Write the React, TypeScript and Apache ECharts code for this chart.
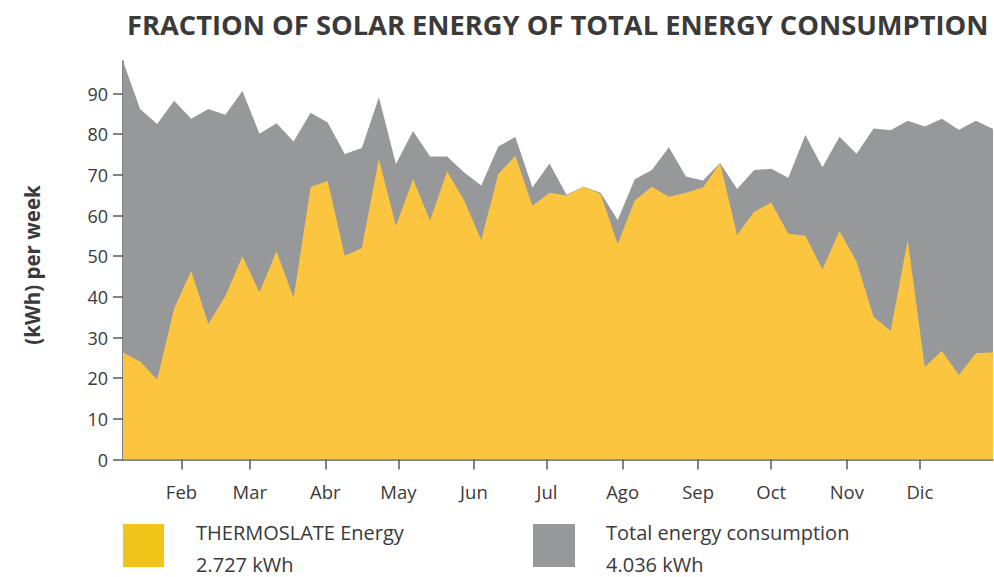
import React, { useEffect, useRef } from "react";
import * as echarts from "echarts";

const title = "FRACTION OF SOLAR ENERGY OF TOTAL ENERGY CONSUMPTION";
const yAxisTitle = "(kWh) per week";

// weekly values (52 weeks)
const totalConsumption = [
  98, 86.2, 82.5, 88.2, 83.8, 86.2, 84.8, 90.6, 80.1, 82.7,
  78.2, 85.3, 82.9, 75.1, 76.6, 89.1, 72.7, 80.8, 74.5, 74.5,
  70.6, 67.4, 77.0, 79.3, 66.9, 72.8, 65.1, 67.1, 65.6, 58.9,
  68.9, 71.2, 76.8, 69.6, 68.6, 72.9, 66.5, 71.2, 71.5, 69.3,
  79.8, 71.9, 79.4, 75.2, 81.4, 81.0, 83.3, 81.9, 83.8, 81.1,
  83.3, 81.3,
];
const thermoslateEnergy = [
  26.3, 24.1, 19.7, 37.2, 46.4, 33.3, 40.2, 50.0, 41.1, 51.2,
  39.7, 67.0, 68.5, 50.1, 52.0, 73.9, 57.5, 68.9, 58.8, 70.8,
  63.7, 54.0, 70.2, 74.7, 62.4, 65.6, 64.9, 67.1, 65.3, 53.0,
  63.7, 67.1, 64.6, 65.6, 66.9, 72.9, 55.2, 60.9, 63.2, 55.5,
  55.0, 46.8, 56.2, 48.7, 35.1, 31.6, 54.0, 22.8, 26.7, 20.8,
  26.1, 26.4,
];

const monthLabels = ["Feb", "Mar", "Abr", "May", "Jun", "Jul", "Ago", "Sep", "Oct", "Nov", "Dic"];
const monthStartDay = [31, 59, 90, 120, 151, 181, 212, 243, 273, 304, 334];
const firstWeekDay = 7;
const yTicks = [0, 10, 20, 30, 40, 50, 60, 70, 80, 90];

const legendNames = ["THERMOSLATE Energy", "Total energy consumption"];
const legendTotals = ["2.727 kWh", "4.036 kWh"];

const YELLOW_AREA = "#FCC540";
const YELLOW_LEGEND = "#F0C419";
const GRAY = "#97989A";
const AXIS = "#555b61";
const TEXT = "#3a3a3a";
const FONT = "'Open Sans', sans-serif";

export default function App() {
  const ref = useRef<HTMLDivElement>(null);
  useEffect(() => {
    if (!ref.current) return;
    const chart = echarts.init(ref.current, undefined, { renderer: "svg" });
    const monthPos = monthStartDay.map((d) => (d - firstWeekDay) / 7);
    const labelFor = (v: number) => {
      const k = monthPos.findIndex((p) => Math.abs(p - v) < 1e-6);
      return k >= 0 ? monthLabels[k] : "";
    };
    chart.setOption({
      animation: false,
      grid: { left: 123, right: 1, top: 61, bottom: 117.5, containLabel: false },
      xAxis: {
        type: "value",
        min: 0,
        max: totalConsumption.length - 1,
        axisLine: { show: true, lineStyle: { color: AXIS, width: 1.5 } },
        axisTick: { show: true, length: 10, customValues: monthPos, lineStyle: { color: AXIS, width: 1.5 } },
        axisLabel: {
          customValues: monthPos,
          formatter: (v: number) => labelFor(v),
          color: TEXT,
          fontFamily: FONT,
          fontSize: 18.5,
          margin: 22,
        },
        splitLine: { show: false },
      },
      yAxis: {
        type: "value",
        min: 0,
        max: 98,
        axisLine: { show: true, lineStyle: { color: AXIS, width: 1.5 } },
        axisTick: { show: true, length: 10, customValues: yTicks, lineStyle: { color: AXIS, width: 1.5 } },
        axisLabel: {
          customValues: yTicks,
          color: TEXT,
          fontFamily: FONT,
          fontSize: 18,
          margin: 15,
        },
        splitLine: { show: false },
      },
      series: [
        {
          type: "line",
          name: legendNames[1],
          data: totalConsumption.map((v, i) => [i, v]),
          symbol: "none",
          lineStyle: { width: 0 },
          areaStyle: { color: GRAY, opacity: 1 },
          z: 1,
        },
        {
          type: "line",
          name: legendNames[0],
          data: thermoslateEnergy.map((v, i) => [i, v]),
          symbol: "none",
          lineStyle: { width: 0 },
          areaStyle: { color: YELLOW_AREA, opacity: 1 },
          z: 2,
        },
      ],
      graphic: [
        {
          type: "text",
          x: 127,
          y: 24,
          style: {
            text: title,
            fontFamily: FONT,
            fontWeight: "bold",
            fontSize: 27.3,
            fill: "#3a3a3a",
            verticalAlign: "middle",
          },
        },
        {
          type: "text",
          x: 32,
          y: 265,
          rotation: Math.PI / 2,
          style: {
            text: yAxisTitle,
            fontFamily: FONT,
            fontWeight: "bold",
            fontSize: 20.5,
            fill: "#3a3a3a",
            align: "center",
            verticalAlign: "middle",
          },
        },
        { type: "rect", shape: { x: 123, y: 524, width: 41, height: 43 }, style: { fill: YELLOW_LEGEND } },
        { type: "rect", shape: { x: 533, y: 524, width: 42, height: 43 }, style: { fill: GRAY } },
        {
          type: "text",
          x: 196,
          y: 532,
          style: { text: legendNames[0], fontFamily: FONT, fontSize: 20, fill: TEXT, verticalAlign: "middle" },
        },
        {
          type: "text",
          x: 196,
          y: 564,
          style: { text: legendTotals[0], fontFamily: FONT, fontSize: 20, fill: TEXT, verticalAlign: "middle" },
        },
        {
          type: "text",
          x: 606,
          y: 532,
          style: { text: legendNames[1], fontFamily: FONT, fontSize: 20, fill: TEXT, verticalAlign: "middle" },
        },
        {
          type: "text",
          x: 606,
          y: 564,
          style: { text: legendTotals[1], fontFamily: FONT, fontSize: 20, fill: TEXT, verticalAlign: "middle" },
        },
      ],
    });
    return () => chart.dispose();
  }, []);
  return (
    <div
      ref={ref}
      style={{ position: "absolute", left: 0, top: 0, width: 994, height: 577, background: "#ffffff" }}
    />
  );
}
